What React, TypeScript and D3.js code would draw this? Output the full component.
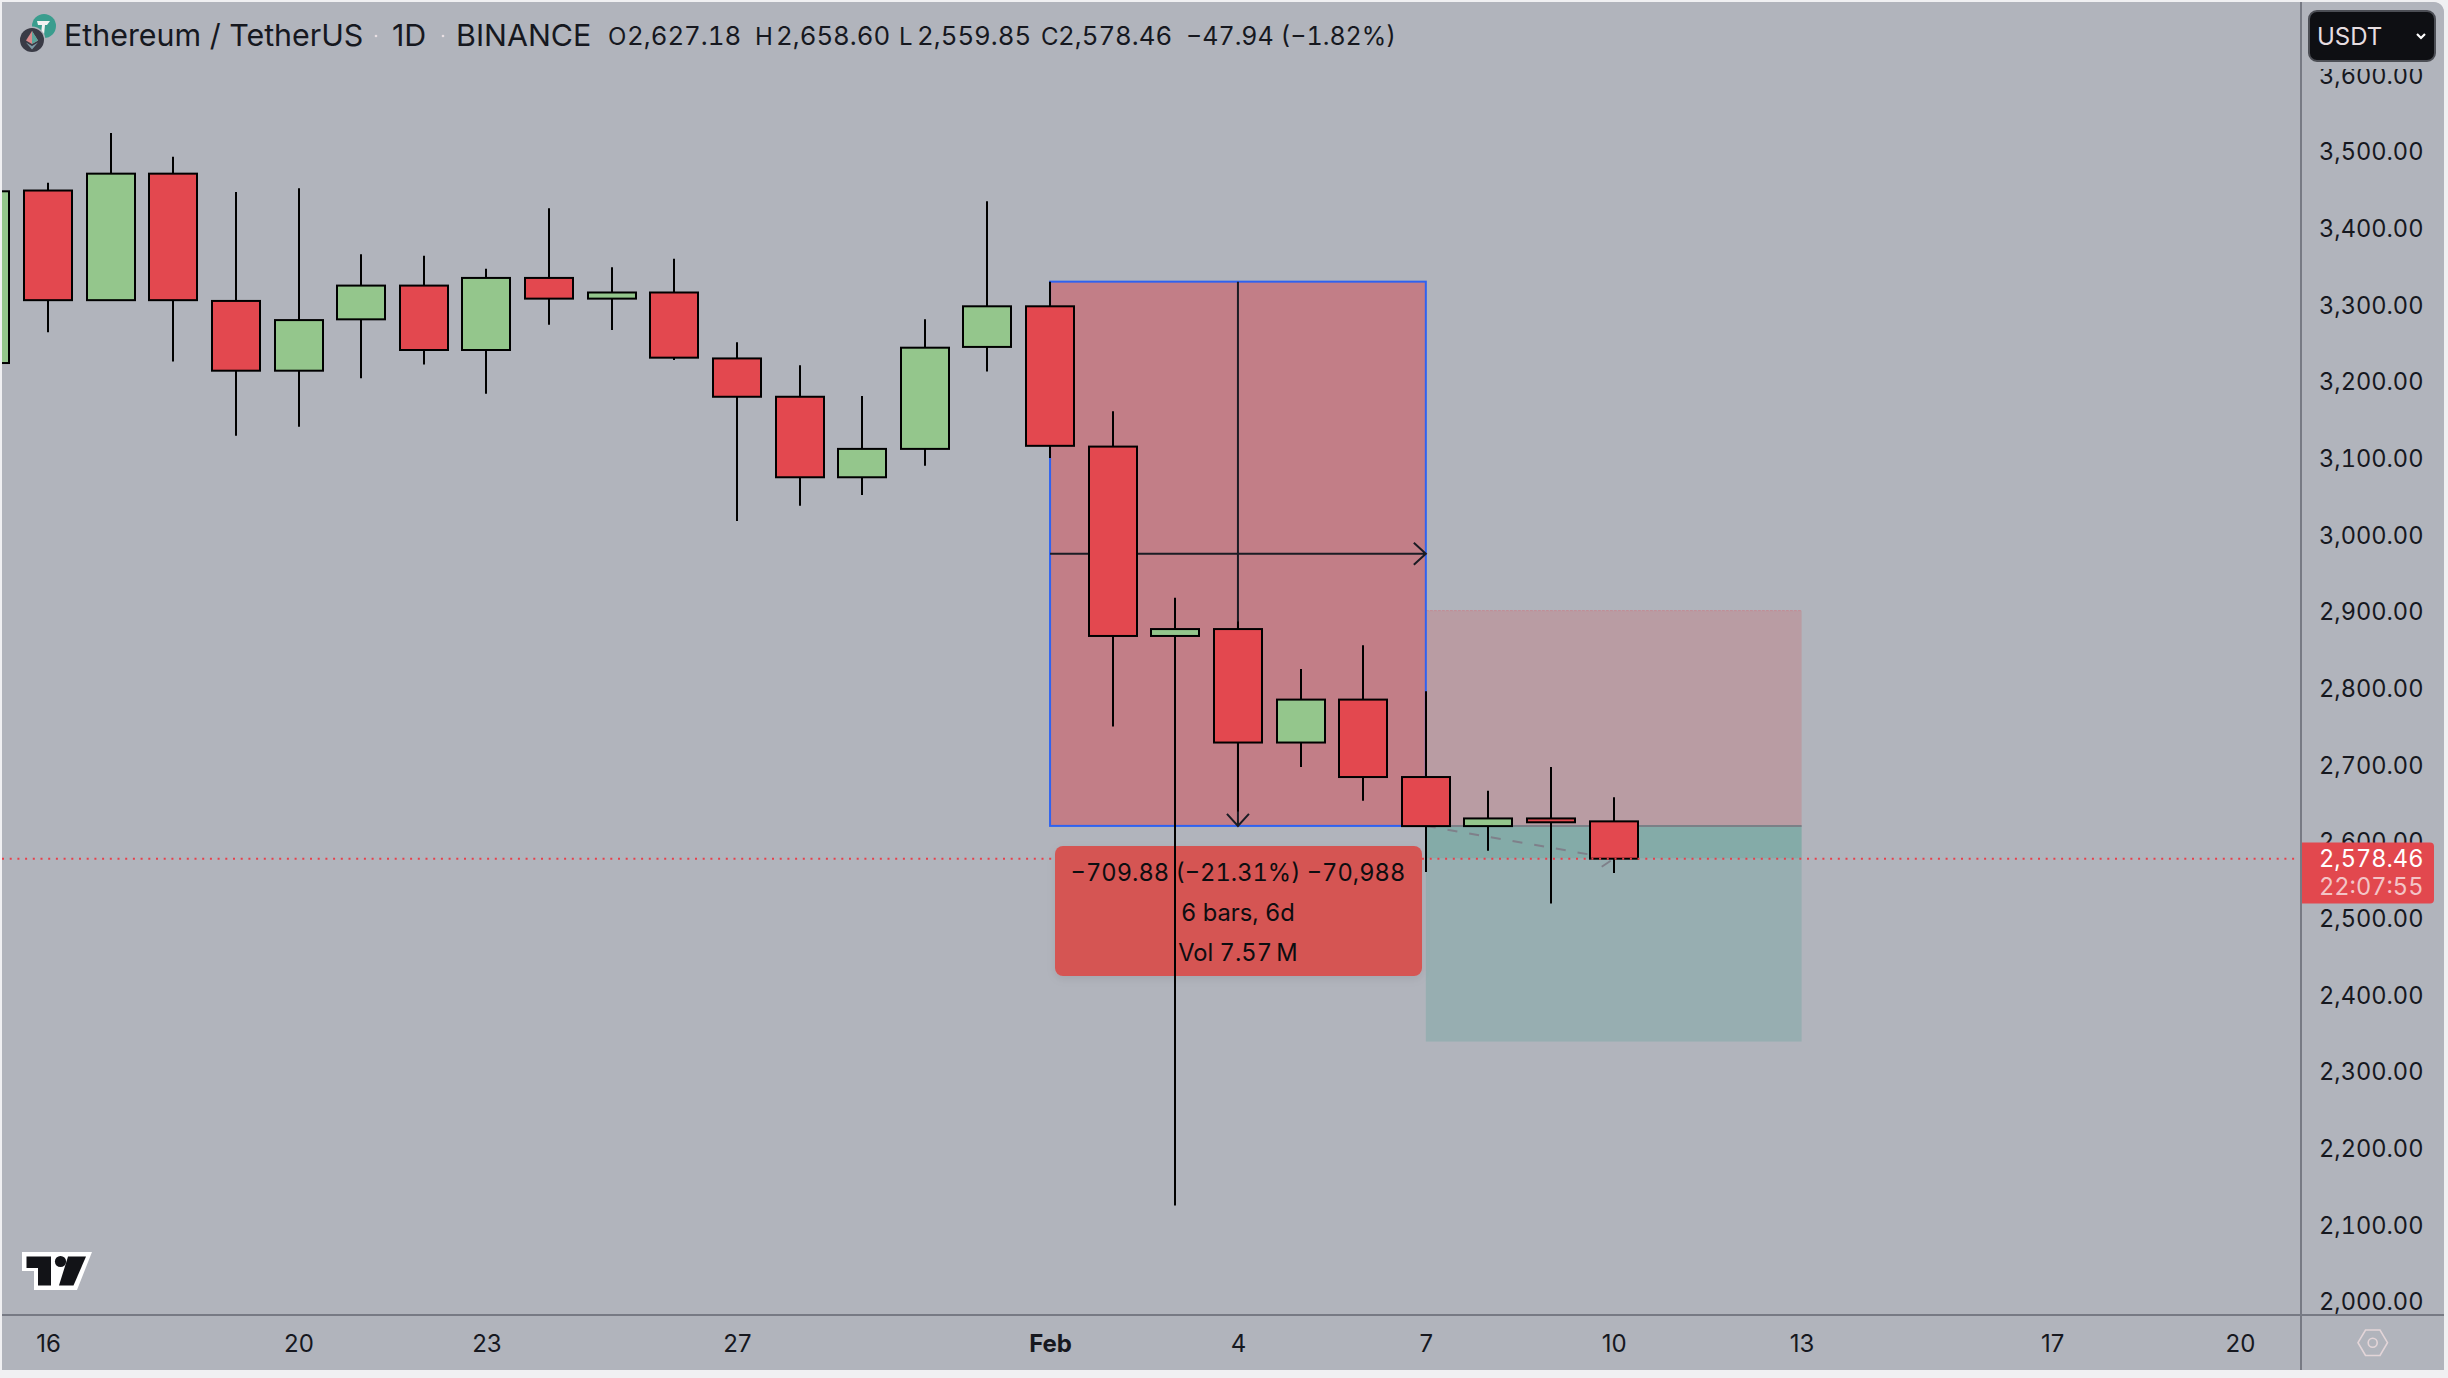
/**
 * App.tsx – ETH/USDT daily candles with date range and short position drawings
 */
import React, { useEffect, useRef } from "react";
import * as d3 from "d3";

const candleDates = [
    "2025-01-15", "2025-01-16", "2025-01-17", "2025-01-18", "2025-01-19", "2025-01-20", "2025-01-21",
    "2025-01-22", "2025-01-23", "2025-01-24", "2025-01-25", "2025-01-26", "2025-01-27", "2025-01-28",
    "2025-01-29", "2025-01-30", "2025-01-31", "2025-02-01", "2025-02-02", "2025-02-03", "2025-02-04",
    "2025-02-05", "2025-02-06", "2025-02-07", "2025-02-08", "2025-02-09", "2025-02-10",
];
// 2025-01-15 is the clipped bar at the left edge
const opens = [3225, 3450, 3307, 3472, 3306, 3215, 3282, 3326, 3242, 3336, 3309, 3317, 3231, 3181, 3076, 3113, 3246, 3299, 3116, 2869, 2878, 2730, 2786, 2685, 2621, 2631, 2627.18];
const highs = [3473, 3460, 3525, 3494, 3448, 3453, 3367, 3365, 3348, 3427, 3350, 3361, 3252, 3222, 3182, 3282, 3436, 3331, 3162, 2919, 2888, 2826, 2857, 2797, 2667, 2698, 2658.6];
const lows = [3210, 3265, 3307, 3227, 3130, 3142, 3205, 3223, 3185, 3275, 3268, 3229, 3019, 3039, 3053, 3091, 3214, 3101, 2751, 2126, 2640, 2698, 2654, 2561, 2589, 2520, 2559.85];
const closes = [3449, 3307, 3472, 3307, 3215, 3281, 3326, 3242, 3336, 3309, 3317, 3232, 3181, 3076, 3113, 3245, 3299, 3117, 2869, 2878, 2730, 2786, 2685, 2621, 2631, 2626, 2578.46];

const priceTicks = [3600, 3500, 3400, 3300, 3200, 3100, 3000, 2900, 2800, 2700, 2600, 2500, 2400, 2300, 2200, 2100, 2000];
const timeTicks = ["2025-01-16", "2025-01-20", "2025-01-23", "2025-01-27", "2025-02-01", "2025-02-04", "2025-02-07", "2025-02-10", "2025-02-13", "2025-02-17", "2025-02-20"];
const timeLabels = ["16", "20", "23", "27", "Feb", "4", "7", "10", "13", "17", "20"];

const legendLabels = ["O", "H", "L", "C"];
const legendValues = ["2,627.18", "2,658.60", "2,559.85", "2,578.46"];

const rangeStart = "2025-02-01";
const rangeEnd = "2025-02-07";
const rangeMid = "2025-02-04";
const rangeHigh = 3331.14;
const rangeLow = 2621.26;
const positionEnd = "2025-02-13";
const positionStop = 2902;
const positionTarget = 2340;
const lastBar = "2025-02-10";
const lastPrice = 2578.46;
const rangeLines = ["−709.88 (−21.31%) −70,988", "6 bars, 6d", "Vol 7.57\u2009M"];

const BG = "#b1b4bc";
const TEXT = "#16181f";
const FONT = "Inter, 'Liberation Sans', sans-serif";
const TNUM = "tabular-nums";
const parse = d3.utcParse("%Y-%m-%d");
const day = (s: string) => parse(s) as Date;

const App: React.FC = () => {
    const svgRef = useRef<SVGSVGElement>(null);

    useEffect(() => {
        if (!svgRef.current) return;
        const svg = d3.select(svgRef.current);
        svg.selectAll("*").remove();

        const L = 2, T = 2, R = 2444, B = 1370;
        const axisX = 2301, axisY = 1315;

        const x = d3.scaleUtc().domain([day("2025-01-16"), day("2025-02-20")]).range([48, 2240]);
        const y = d3.scaleLinear().domain([3600, 2000]).range([75.53, 1302.2]);

        svg.append("rect").attr("width", 2448).attr("height", 1378).attr("fill", "#f0f0f2");
        svg.append("path").attr("fill", BG)
            .attr("d", `M${L},${T}H${R - 12}Q${R},${T} ${R},${T + 12}V${B}H${L}Z`);

        const defs = svg.append("defs");
        defs.append("clipPath").attr("id", "plot").append("rect")
            .attr("x", L).attr("y", T).attr("width", axisX - L).attr("height", axisY - T);
        const shadow = defs.append("filter").attr("id", "soft").attr("x", "-5%").attr("y", "-10%").attr("width", "110%").attr("height", "130%");
        shadow.append("feDropShadow").attr("dx", 0).attr("dy", 3).attr("stdDeviation", 4)
            .attr("flood-color", "#000").attr("flood-opacity", 0.08);

        const plot = svg.append("g").attr("clip-path", "url(#plot)");

        // Date range box
        const rx0 = x(day(rangeStart)), rx1 = x(day(rangeEnd)), rxm = x(day(rangeMid));
        const ry0 = y(rangeHigh), ry1 = y(rangeLow), rym = (ry0 + ry1) / 2;

        // Short position tool
        const px1 = x(day(positionEnd));
        const yStop = y(positionStop), yTarget = y(positionTarget), yLast = y(lastPrice);
        plot.append("rect").attr("x", rx1).attr("y", yStop).attr("width", px1 - rx1).attr("height", ry1 - yStop).attr("fill", "#b99ca3");
        plot.append("rect").attr("x", rx1).attr("y", ry1).attr("width", px1 - rx1).attr("height", yLast - ry1).attr("fill", "#84aba8");
        plot.append("rect").attr("x", rx1).attr("y", yLast).attr("width", px1 - rx1).attr("height", yTarget - yLast).attr("fill", "#97aeb1");
        plot.append("line").attr("x1", rx1).attr("x2", px1).attr("y1", yStop).attr("y2", yStop)
            .attr("stroke", "#c28a93").attr("stroke-width", 1).attr("stroke-dasharray", "3 1");
        plot.append("line").attr("x1", rx1).attr("x2", px1).attr("y1", ry1).attr("y2", ry1)
            .attr("stroke", "#7b8087").attr("stroke-width", 2);

        plot.append("rect").attr("x", rx0).attr("y", ry0).attr("width", rx1 - rx0).attr("height", ry1 - ry0)
            .attr("fill", "#c27e87").attr("stroke", "#2f62f0").attr("stroke-width", 2);

        const arrows = plot.append("g").attr("stroke", "#1a1c24").attr("stroke-width", 2).attr("fill", "none");
        arrows.append("path").attr("d", `M${rx0},${rym}H${rx1}M${rx1 - 12},${rym - 11}L${rx1},${rym}L${rx1 - 12},${rym + 11}`);
        arrows.append("path").attr("d", `M${rxm},${ry0}V${ry1}M${rxm - 11},${ry1 - 12}L${rxm},${ry1}L${rxm + 11},${ry1 - 12}`);

        // Trade path from entry to the last close
        const xLast = x(day(lastBar));
        plot.append("line").attr("x1", rx1).attr("x2", xLast).attr("y1", ry1).attr("y2", yLast)
            .attr("stroke", "#7f808a").attr("stroke-width", 2).attr("stroke-dasharray", "10 12");
        plot.append("line").attr("x1", xLast - 12).attr("x2", xLast - 3).attr("y1", yLast + 8).attr("y2", yLast + 2)
            .attr("stroke", "#7f808a").attr("stroke-width", 2);

        // Measurement label, under the candles so the long wick crosses it
        const labelX0 = 1055, labelX1 = 1422, labelY0 = 846, labelY1 = 976;
        plot.append("rect").attr("x", labelX0).attr("y", labelY0).attr("width", labelX1 - labelX0).attr("height", labelY1 - labelY0)
            .attr("rx", 8).attr("fill", "#d55553").attr("filter", "url(#soft)");

        // Candles
        const candles = plot.append("g").selectAll("g").data(candleDates).join("g");
        candles.append("line")
            .attr("x1", (d) => Math.round(x(day(d)))).attr("x2", (d) => Math.round(x(day(d))))
            .attr("y1", (_d, i) => y(highs[i])).attr("y2", (_d, i) => y(lows[i]))
            .attr("stroke", "#000").attr("stroke-width", 2);
        candles.append("rect")
            .attr("x", (d) => Math.round(x(day(d))) - 24)
            .attr("width", 48)
            .attr("y", (_d, i) => y(Math.max(opens[i], closes[i])))
            .attr("height", (_d, i) => Math.abs(y(opens[i]) - y(closes[i])))
            .attr("fill", (_d, i) => (closes[i] >= opens[i] ? "#94c68c" : "#e3484f"))
            .attr("stroke", "#000").attr("stroke-width", 2);

        rangeLines.forEach((t, i) => {
            plot.append("text").attr("x", rxm).attr("y", [880.5, 920.5, 960.5][i]).attr("text-anchor", "middle")
                .attr("font-family", FONT).attr("font-size", 23.7).style("font-variant-numeric", TNUM)
                .attr("fill", "#0d0d10").text(t);
        });

        // Last price dotted line, interrupted by the label
        [[L, labelX0], [labelX1, axisX - 5]].forEach(([a, b]) => {
            plot.append("line").attr("x1", a).attr("x2", b).attr("y1", yLast).attr("y2", yLast)
                .attr("stroke", "#ea3f49").attr("stroke-width", 2).attr("stroke-dasharray", "2 5.7");
        });

        // Axes
        svg.append("line").attr("x1", axisX).attr("x2", axisX).attr("y1", T).attr("y2", B).attr("stroke", "#777a84").attr("stroke-width", 2);
        svg.append("line").attr("x1", L).attr("x2", R).attr("y1", axisY).attr("y2", axisY).attr("stroke", "#777a84").attr("stroke-width", 2);

        const priceAxis = svg.append("g").attr("transform", "translate(2319,0)")
            .call(d3.axisRight(y).tickValues(priceTicks).tickSize(0).tickPadding(0).tickFormat(d3.format(",.2f") as any));
        priceAxis.select(".domain").remove();
        priceAxis.selectAll("text").attr("font-family", FONT).attr("font-size", 23.6).attr("fill", TEXT).style("font-variant-numeric", TNUM);

        const timeAxis = svg.append("g").attr("transform", `translate(0,${axisY})`)
            .call(d3.axisBottom(x).tickValues(timeTicks.map(day)).tickSize(0).tickPadding(0)
                .tickFormat((_d, i) => timeLabels[i]));
        timeAxis.select(".domain").remove();
        timeAxis.selectAll("text")
            .attr("y", 36.5).attr("dy", 0)
            .attr("font-family", FONT).attr("font-size", 24).attr("fill", TEXT)
            .attr("font-weight", (_d, i) => (timeLabels[i] === "Feb" ? 700 : 400));

        // Last price tag
        svg.append("path").attr("fill", "#e2484e").attr("d", "M2302,842.5H2430Q2434,842.5 2434,846.5V899.5Q2434,903.5 2430,903.5H2302Z");
        svg.append("text").attr("x", 2319).attr("y", yLast + 8).attr("font-family", FONT).attr("font-size", 23.6).style("font-variant-numeric", TNUM).attr("fill", "#ffffff").text(d3.format(",.2f")(lastPrice));
        svg.append("text").attr("x", 2319).attr("y", 895).attr("font-family", FONT).attr("font-size", 23.6).style("font-variant-numeric", TNUM).attr("fill", "#f3c4c6").text("22:07:55");

        // Currency button, with the background mask that cuts the 3,600 label
        svg.append("path").attr("fill", BG).attr("d", `M${axisX + 2},${T}H${R - 12}Q${R},${T} ${R},${T + 12}V69H${axisX + 2}Z`);
        svg.append("rect").attr("x", 2309).attr("y", 11).attr("width", 126).attr("height", 50).attr("rx", 8)
            .attr("fill", "#0e0f13").attr("stroke", "#4c4e55").attr("stroke-width", 2);
        svg.append("text").attr("x", 2317).attr("y", 45).attr("font-family", FONT).attr("font-size", 24).attr("fill", "#e6dde0").text("USDT");
        svg.append("path").attr("d", "M2417,34L2421,38L2425,34").attr("fill", "none").attr("stroke", "#fff").attr("stroke-width", 2.2);

        // Settings hexagon
        svg.append("path").attr("d", "M2358,1342.7L2365.5,1330H2380L2387.5,1342.7L2380,1355.5H2365.5Z")
            .attr("fill", "none").attr("stroke", "#e3d5d8").attr("stroke-width", 1.6);
        svg.append("circle").attr("cx", 2372.7).attr("cy", 1342.7).attr("r", 4.5).attr("fill", "none").attr("stroke", "#e3d5d8").attr("stroke-width", 1.6);

        // TradingView mark
        const logo = svg.append("g").attr("transform", "translate(22,1252)");
        logo.append("path").attr("fill", "#fff").attr("d", "M0,0H70L55,38H12V19H0Z");
        logo.append("path").attr("fill", "#121317").attr("d", "M4.5,4.5H29V33.5H16V16H4.5Z");
        logo.append("circle").attr("cx", 38.5).attr("cy", 9.5).attr("r", 5.6).attr("fill", "#121317");
        logo.append("path").attr("fill", "#121317").attr("d", "M46,4.5H64L51.5,33.5H37Z");

        // Symbol icons
        const icon = svg.append("g");
        icon.append("circle").attr("cx", 44).attr("cy", 26).attr("r", 12).attr("fill", "#3a9d8e");
        icon.append("path").attr("d", "M37,21H50L47,25H45L44,35L41,34L42,25H38Z").attr("fill", "#f2f2f2");
        icon.append("circle").attr("cx", 32).attr("cy", 40).attr("r", 13.5).attr("fill", BG);
        icon.append("circle").attr("cx", 32).attr("cy", 40).attr("r", 12).attr("fill", "#3a3b46");
        icon.append("path").attr("d", "M32,31L38,40.5L32,44L26,40.5Z").attr("fill", "#d98a8c");
        icon.append("path").attr("d", "M32,31L38,40.5L32,44Z").attr("fill", "#5aa59c");
        icon.append("path").attr("d", "M26,42.5L32,46L38,42.5L32,49.5Z").attr("fill", "#7f9aa5");

        // Legend row
        const header = svg.append("g").attr("font-family", FONT).attr("fill", TEXT).attr("font-size", 30.4);
        header.append("text").attr("x", 64).attr("y", 46).text("Ethereum / TetherUS");
        header.append("text").attr("x", 392).attr("y", 46).text("1D");
        header.append("text").attr("x", 456).attr("y", 46).text("BINANCE");
        [376, 443].forEach((cx) => header.append("circle").attr("cx", cx).attr("cy", 36).attr("r", 1.3).attr("fill", "#e8dfe2"));
        const legend = svg.append("g").attr("font-family", FONT).attr("fill", TEXT).attr("font-size", 25.8).style("font-variant-numeric", TNUM);
        legendLabels.forEach((t, i) => {
            legend.append("text").attr("x", [608, 755, 899, 1041][i]).attr("y", 45).attr("font-size", 24).text(t);
            legend.append("text").attr("x", [627, 776, 917, 1058][i]).attr("y", 45).text(legendValues[i]);
        });
        legend.append("text").attr("x", 1186).attr("y", 45).attr("font-size", 25).text("−47.94 (−1.82%)");
    }, []);

    return <svg ref={svgRef} width={2448} height={1378} style={{ position: "fixed", left: 0, top: 0 }} />;
};

export default App;
